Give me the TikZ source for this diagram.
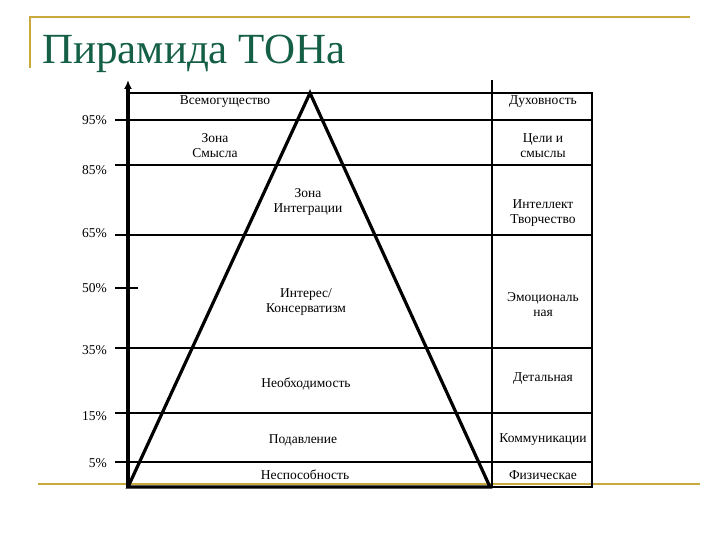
\documentclass[tikz,border=0pt]{standalone}
\usepackage{fontspec}
\setmainfont{Liberation Serif}
\usetikzlibrary{arrows.meta}
\begin{document}
\begin{tikzpicture}[x=1pt,y=-1pt,
  lab/.style={font=\fontsize{13.5}{15}\selectfont,align=center,inner sep=0pt},
  pct/.style={font=\fontsize{13.5}{15}\selectfont,anchor=east,inner sep=0pt},
  thin/.style={line width=1.1pt},
  gold/.style={draw={rgb,255:red,200;green,170;blue,60},line width=2pt}]
\useasboundingbox (0,0) rectangle (720,540);
\draw[gold] (30,68) -- (30,17) -- (690,17);
\draw[gold] (38,484) -- (700,484);
\node[anchor=base west,inner sep=0pt,text={rgb,255:red,20;green,95;blue,70},font=\fontsize{43}{46}\selectfont] (title) at (42,64) {Пирамида ТОНа};
% grid
\draw[thin] (128,93) -- (592,93) -- (592,487) -- (490,487);
\draw[thin] (492,80) -- (492,487);
\foreach \y in {120,165,235,348,413,462} \draw[thin] (115,\y) -- (592,\y);
\draw[thin] (115,288) -- (138,288);
% axis
\coordinate (ab) at (128,487); \coordinate (at) at (128,80);
\draw[line width=3.2pt,-{Latex[length=9pt,width=8pt]}] (ab) -- (at);
% pyramid
\coordinate (apex) at (310,93); \coordinate (bl) at (128,487); \coordinate (br) at (490,487);
\draw[line width=3.2pt,line join=miter] (bl) -- (apex) -- (br) -- cycle;
% labels
\node[lab] (l1) at (225,102) {Всемогущество};
\node[lab] (l2) at (215,146) {Зона\\Смысла};
\node[lab] (l3) at (308,202) {Зона\\Интеграции};
\node[lab] (l4) at (306,302) {Интерес/\\Консерватизм};
\node[lab] (l5) at (306,384) {Необходимость};
\node[lab] (l6) at (303,440) {Подавление};
\node[lab] (l7) at (305,475) {Неспособность};
\node[lab] (r1) at (543,102) {Духовность};
\node[lab] (r2) at (543,146) {Цели и\\смыслы};
\node[lab] (r3) at (543,213) {Интеллект\\Творчество};
\node[lab] (r4) at (543,305) {Эмоциональ\\ная};
\node[lab] (r5) at (543,379) {Детальная};
\node[lab] (r6) at (543,440) {Коммуникации};
\node[lab] (r7) at (543,475) {Физическае};
\node[pct] (p1) at (107,120) {95\%};
\node[pct] (p2) at (107,170) {85\%};
\node[pct] (p3) at (107,233) {65\%};
\node[pct] (p4) at (107,288) {50\%};
\node[pct] (p5) at (107,350) {35\%};
\node[pct] (p6) at (107,416) {15\%};
\node[pct] (p7) at (107,463) {5\%};
\end{tikzpicture}
\end{document}
